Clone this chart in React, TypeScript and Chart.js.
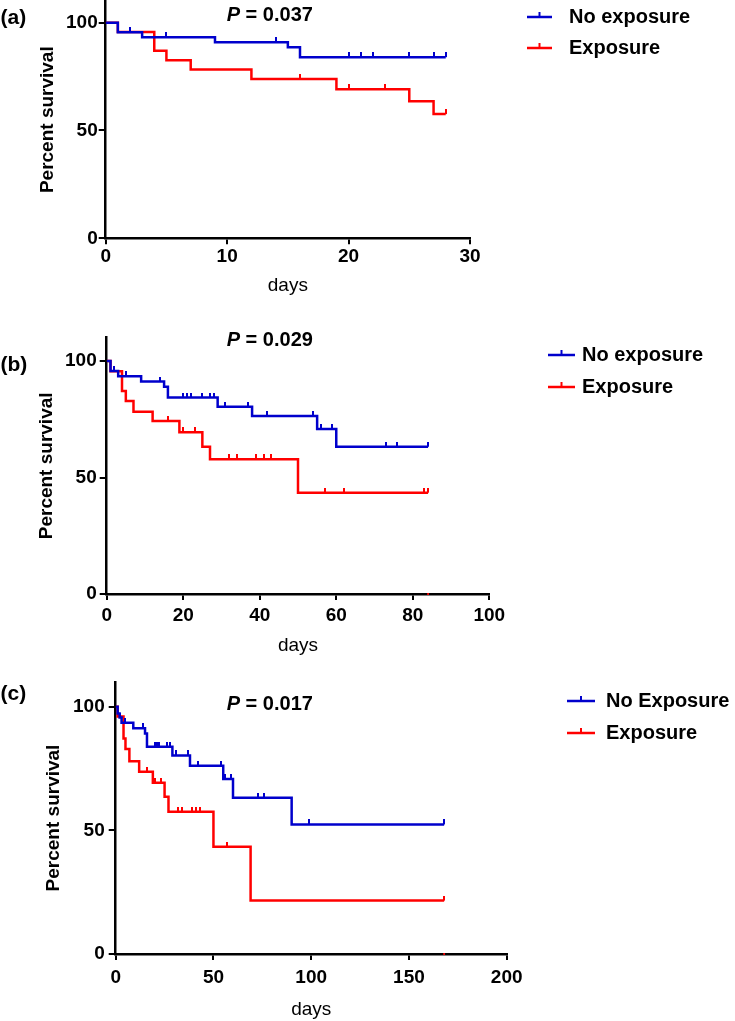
import React, { useEffect, useRef } from "react";
import { Chart, registerables } from "chart.js";

Chart.register(...registerables);

const FONT = '"Liberation Sans", Arial, Helvetica, sans-serif';
const BLUE = "#0000cc";
const RED = "#ff0000";
const LABEL_NO = ["No exposure", "No exposure", "No Exposure"];
const LABEL_EXP = "Exposure";

// ---------- Panel (a) ----------
const aTicksX = [0, 10, 20, 30];
const aTicksY = [0, 50, 100];
const aNoExpTimes = [0, 1, 3, 9, 15, 16, 28];
const aNoExpSurv = [100, 95.5, 93.2, 90.9, 88.6, 84.0, 84.0];
const aNoExpCensored = [2, 5, 14, 20, 21, 22, 25, 27, 28];
const aExpTimes = [0, 1, 4, 5, 7, 12, 19, 25, 27, 28];
const aExpSurv = [100, 95.7, 87.0, 82.6, 78.3, 73.9, 69.1, 63.5, 57.6, 57.6];
const aExpCensored = [16, 20, 23, 28];
const aExpZero: number[] = [];

// ---------- Panel (b) ----------
const bTicksX = [0, 20, 40, 60, 80, 100];
const bTicksY = [0, 50, 100];
const bNoExpTimes = [0, 1, 3, 9, 15, 16, 29, 38, 55, 60, 84];
const bNoExpSurv = [100, 95.7, 93.5, 91.2, 88.9, 84.3, 80.4, 76.4, 70.8, 63.2, 63.2];
const bNoExpCensored = [2, 5, 14, 20, 21, 22, 25, 27, 28, 31, 37, 42, 54, 56, 59, 73, 76, 84];
const bExpTimes = [0, 1, 4, 5, 7, 12, 19, 25, 27, 50, 84];
const bExpSurv = [100, 95.6, 87.1, 82.8, 78.2, 74.2, 69.4, 63.2, 57.8, 43.5, 43.5];
const bExpCensored = [16, 20, 23, 32, 34, 39, 41, 43, 57, 62, 83, 84];
const bExpZero = [84];

// ---------- Panel (c) ----------
const cTicksX = [0, 50, 100, 150, 200];
const cTicksY = [0, 50, 100];
const cNoExpTimes = [0, 1, 2, 3, 9, 15, 16, 29, 38, 55, 60, 90, 168];
const cNoExpSurv = [100, 97.3, 95.6, 93.5, 91.3, 89.2, 83.8, 80.3, 76.1, 70.8, 63.2, 52.4, 52.4];
const cNoExpCensored = [2, 5, 14, 20, 21, 22, 26, 28, 31, 37, 42, 54, 56, 59, 73, 76, 99, 168];
const cExpTimes = [0, 1, 4, 5, 7, 12, 19, 25, 27, 50, 69, 168];
const cExpSurv = [100, 96.0, 87.2, 82.9, 78.0, 73.7, 69.3, 63.6, 57.5, 43.4, 21.6, 21.6];
const cExpCensored = [16, 20, 23, 32, 34, 39, 41, 43, 57, 168];
const cExpZero = [168];

const pValues = ["0.037", "0.029", "0.017"];
const panelLetters = ["(a)", "(b)", "(c)"];

type Area = { left: number; right: number; top: number; bottom: number };
type PanelCfg = {
  idx: number;
  top: number;
  height: number;
  area: Area;
  xMax: number;
  xTicks: number[];
  yTicks: number[];
  noTimes: number[];
  noSurv: number[];
  noCens: number[];
  exTimes: number[];
  exSurv: number[];
  exCens: number[];
  exZero: number[];
  yTitleX: number;
  xTitleY: number;
  xTickPad: number;
  yTickPad: number;
  labelY: number;
  pY: number;
  legend: { lineX: number; lineLen: number; textX: number; rows: number[] };
};

const panels: PanelCfg[] = [
  {
    idx: 0, top: 0, height: 300,
    area: { left: 105.7, right: 470, top: 1.1, bottom: 238.3 },
    xMax: 30, xTicks: aTicksX, yTicks: aTicksY,
    noTimes: aNoExpTimes, noSurv: aNoExpSurv, noCens: aNoExpCensored,
    exTimes: aExpTimes, exSurv: aExpSurv, exCens: aExpCensored, exZero: aExpZero,
    yTitleX: 47.5, xTitleY: 285.5, xTickPad: 1, yTickPad: 1,
    labelY: 18, pY: 15.7,
    legend: { lineX: 527, lineLen: 25, textX: 569, rows: [17, 48] },
  },
  {
    idx: 1, top: 300, height: 360,
    area: { left: 106.7, right: 489.3, top: 37.7, bottom: 294 },
    xMax: 100, xTicks: bTicksX, yTicks: bTicksY,
    noTimes: bNoExpTimes, noSurv: bNoExpSurv, noCens: bNoExpCensored,
    exTimes: bExpTimes, exSurv: bExpSurv, exCens: bExpCensored, exZero: bExpZero,
    yTitleX: 46.6, xTitleY: 345.5, xTickPad: 4, yTickPad: 3,
    labelY: 65, pY: 40,
    legend: { lineX: 548, lineLen: 27, textX: 582, rows: [55, 87] },
  },
  {
    idx: 2, top: 660, height: 361,
    area: { left: 115.7, right: 506.7, top: 22, bottom: 294 },
    xMax: 200, xTicks: cTicksX, yTicks: cTicksY,
    noTimes: cNoExpTimes, noSurv: cNoExpSurv, noCens: cNoExpCensored,
    exTimes: cExpTimes, exSurv: cExpSurv, exCens: cExpCensored, exZero: cExpZero,
    yTitleX: 54, xTitleY: 349.5, xTickPad: 6, yTickPad: 4,
    labelY: 34, pY: 44,
    legend: { lineX: 567, lineLen: 28, textX: 606, rows: [41, 73] },
  },
];

function survivalAt(times: number[], surv: number[], t: number) {
  let v = surv[0];
  for (let i = 0; i < times.length; i++) if (times[i] <= t) v = surv[i];
  return v;
}

function tickImage(color: string, h = 5, w = 2) {
  const c = document.createElement("canvas");
  c.width = w;
  c.height = h * 2;
  const ctx = c.getContext("2d")!;
  ctx.fillStyle = color;
  ctx.fillRect(0, 0, w, h);
  return c;
}

function makeChart(canvas: HTMLCanvasElement, cfg: PanelCfg) {
  const H = cfg.height;
  const a = cfg.area;
  const LH = 1.2;
  const tickFont = { family: FONT, size: 19, weight: "bold" as const, lineHeight: LH };
  const blueTick = tickImage(BLUE);
  const redTick = tickImage(RED);

  const overlay = {
    id: "overlay" + cfg.idx,
    afterDraw(chart: any) {
      const ctx = chart.ctx as CanvasRenderingContext2D;
      ctx.save();
      ctx.fillStyle = "#000";
      ctx.textBaseline = "middle";
      // panel letter
      ctx.font = `bold 21px ${FONT}`;
      ctx.textAlign = "left";
      ctx.fillText(panelLetters[cfg.idx], 0.5, cfg.labelY);
      // P value
      ctx.font = `italic bold 20px ${FONT}`;
      const px = 226.7;
      ctx.fillText("P", px, cfg.pY);
      const w = ctx.measureText("P").width;
      ctx.font = `bold 20px ${FONT}`;
      ctx.fillText(" = " + pValues[cfg.idx], px + w, cfg.pY);
      // legend
      const L = cfg.legend;
      const ds = chart.data.datasets;
      [0, 1].forEach((i) => {
        const y = L.rows[i];
        const col = ds[i].borderColor;
        ctx.strokeStyle = col;
        ctx.lineWidth = 2.5;
        ctx.beginPath();
        ctx.moveTo(L.lineX, y);
        ctx.lineTo(L.lineX + L.lineLen, y);
        ctx.stroke();
        ctx.lineWidth = 2;
        ctx.beginPath();
        ctx.moveTo(L.lineX + L.lineLen / 2, y);
        ctx.lineTo(L.lineX + L.lineLen / 2, y - 5);
        ctx.stroke();
        ctx.fillStyle = "#000";
        ctx.font = `bold 20px ${FONT}`;
        ctx.textAlign = "left";
        ctx.fillText(ds[i].label, L.textX, y);
      });
      ctx.restore();
    },
  };

  const line = (times: number[], surv: number[]) => times.map((t, i) => ({ x: t, y: surv[i] }));
  const cens = (times: number[], surv: number[], c: number[]) =>
    c.map((t) => ({ x: t, y: survivalAt(times, surv, t) }));

  return new Chart(canvas, {
    type: "line",
    data: {
      datasets: [
        {
          label: LABEL_NO[cfg.idx],
          data: line(cfg.noTimes, cfg.noSurv),
          borderColor: BLUE,
          backgroundColor: BLUE,
          borderWidth: 2.5,
          stepped: "before",
          pointRadius: 0,
          fill: false,
          order: 1,
        },
        {
          label: LABEL_EXP,
          data: line(cfg.exTimes, cfg.exSurv),
          borderColor: RED,
          backgroundColor: RED,
          borderWidth: 2.5,
          stepped: "before",
          pointRadius: 0,
          fill: false,
          order: 2,
        },
        {
          label: "censored-no",
          data: cens(cfg.noTimes, cfg.noSurv, cfg.noCens),
          showLine: false,
          pointStyle: blueTick as any,
          pointRadius: 3,
          borderColor: BLUE,
          backgroundColor: BLUE,
          clip: false as any,
          order: 0,
        },
        {
          label: "censored-exp",
          data: cens(cfg.exTimes, cfg.exSurv, cfg.exCens),
          showLine: false,
          pointStyle: redTick as any,
          pointRadius: 3,
          borderColor: RED,
          backgroundColor: RED,
          clip: false as any,
          order: 0,
        },
        {
          label: "zero-mark",
          data: cfg.exZero.map((t) => ({ x: t, y: 0 })),
          showLine: false,
          pointStyle: "rect",
          pointRadius: 1.3,
          borderWidth: 0,
          borderColor: RED,
          backgroundColor: RED,
          clip: false as any,
          order: 0,
        },
      ],
    },
    options: {
      responsive: false,
      animation: false,
      devicePixelRatio: 1,
      events: [],
      layout: {
        autoPadding: false,
        padding: { left: 0, top: a.top, right: 735 - a.right, bottom: 0 },
      },
      plugins: {
        legend: { display: false },
        tooltip: { enabled: false },
        title: { display: false },
      },
      scales: {
        x: {
          type: "linear",
          min: 0,
          max: cfg.xMax,
          afterBuildTicks: (s: any) => {
            s.ticks = cfg.xTicks.map((v) => ({ value: v }));
          },
          afterFit: (s: any) => {
            s.height = H - a.bottom;
            s.paddingLeft = 0;
            s.paddingRight = 0;
          },
          ticks: {
            font: tickFont,
            color: "#000",
            padding: cfg.xTickPad,
            maxRotation: 0,
            autoSkip: false,
          },
          grid: {
            display: true,
            drawOnChartArea: false,
            drawTicks: true,
            tickLength: 6,
            color: "#000",
            lineWidth: 2,
          },
          border: { display: true, color: "#000", width: 2.5 },
          title: {
            display: true,
            text: "days",
            color: "#000",
            font: { family: FONT, size: 19, weight: "normal", lineHeight: LH },
            padding: { top: 0, bottom: H - cfg.xTitleY - (19 * LH) / 2 },
          },
        },
        y: {
          type: "linear",
          min: 0,
          max: 110,
          afterBuildTicks: (s: any) => {
            s.ticks = cfg.yTicks.map((v) => ({ value: v }));
          },
          afterFit: (s: any) => {
            s.width = a.left;
            s.paddingTop = 0;
            s.paddingBottom = 0;
          },
          ticks: {
            font: tickFont,
            color: "#000",
            padding: cfg.yTickPad,
            autoSkip: false,
          },
          grid: {
            display: true,
            drawOnChartArea: false,
            drawTicks: true,
            tickLength: 7,
            color: "#000",
            lineWidth: 2,
          },
          border: { display: true, color: "#000", width: 2.5 },
          title: {
            display: true,
            text: "Percent survival",
            color: "#000",
            font: { family: FONT, size: 19, weight: "bold", lineHeight: LH },
            padding: { top: cfg.yTitleX - (19 * LH) / 2, bottom: 0 },
          },
        },
      },
    },
    plugins: [overlay],
  } as any);
}

function Panel({ cfg }: { cfg: PanelCfg }) {
  const ref = useRef<HTMLCanvasElement>(null);
  useEffect(() => {
    const chart = makeChart(ref.current!, cfg);
    return () => chart.destroy();
  }, [cfg]);
  return (
    <canvas
      ref={ref}
      width={735}
      height={cfg.height}
      style={{ position: "absolute", left: 0, top: cfg.top, width: 735, height: cfg.height }}
    />
  );
}

export default function App() {
  return (
    <div
      style={{
        position: "absolute",
        left: 0,
        top: 0,
        width: 735,
        height: 1021,
        background: "#fff",
        overflow: "hidden",
      }}
    >
      {panels.map((p) => (
        <Panel key={p.idx} cfg={p} />
      ))}
    </div>
  );
}
